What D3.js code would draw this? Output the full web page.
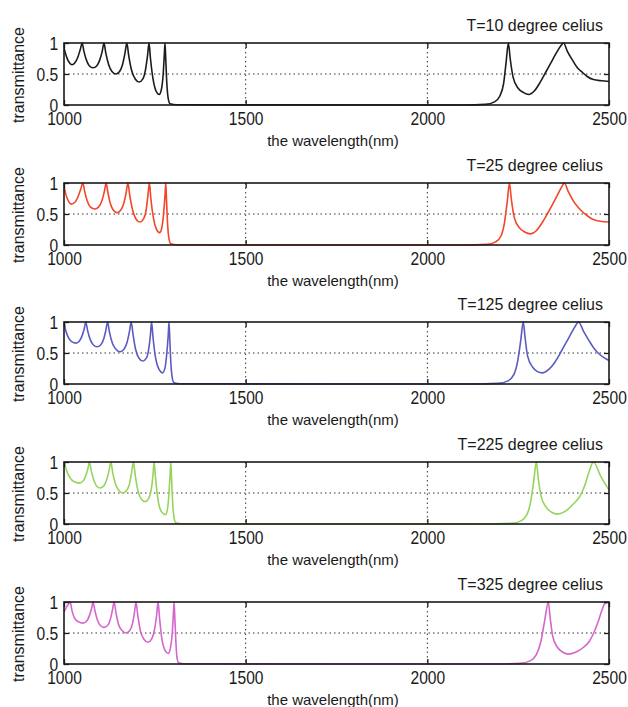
<!DOCTYPE html>
<html>
<head>
<meta charset="utf-8">
<script src="https://cdn.jsdelivr.net/npm/d3@7"></script>
<style>
  body { margin: 0; background: #fff; }
  svg { display: block; }
  .tick text { font-family: "Liberation Sans", Arial, sans-serif; font-size: 19px; fill: #1a1a1a; }
  .lbl { font-family: "Liberation Sans", Arial, sans-serif; fill: #1a1a1a; }
</style>
</head>
<body>
<svg id="chart" width="628" height="707"></svg>
<script>
// panel titles
const titles = ['T=10 degree celius', 'T=25 degree celius', 'T=125 degree celius', 'T=225 degree celius', 'T=325 degree celius']
const colors = ['#1c1c1c', '#f2452a', '#5a5cc2', '#96d45c', '#d466cc']
const xTicks = [1000, 1500, 2000, 2500]
const yTicks = [0, 0.5, 1]
const yTickLabels = ['0', '0.5', '1']

// T=10
const wl10 = [1000, 1008, 1015, 1022, 1030, 1038, 1045, 1050,
  1055, 1062, 1070, 1080, 1090, 1098, 1105, 1110,
  1115, 1123, 1132, 1143, 1153, 1161, 1168, 1173,
  1178, 1186, 1196, 1207, 1217, 1224, 1230, 1234,
  1238, 1245, 1253, 1262, 1268, 1273, 1276, 1278,
  1280, 1283, 1287, 1292, 1310, 2100, 2160, 2185, 2200, 2210, 2217, 2223,
  2228, 2236, 2250, 2265, 2279, 2295, 2310, 2325, 2340, 2355, 2368, 2375,
  2385, 2400, 2413, 2428, 2440, 2457, 2480, 2500]
const tr10 = [0.92, 0.76, 0.68, 0.65, 0.68, 0.77, 0.9, 1,
  0.86, 0.72, 0.63, 0.6, 0.63, 0.72, 0.86, 1,
  0.84, 0.65, 0.54, 0.5, 0.54, 0.65, 0.84, 1,
  0.8, 0.56, 0.42, 0.37, 0.42, 0.56, 0.8, 1,
  0.75, 0.42, 0.23, 0.17, 0.25, 0.5, 0.8, 1,
  0.75, 0.35, 0.1, 0.02, 0.003, 0, 0.01, 0.05, 0.15, 0.35, 0.7, 1,
  0.75, 0.45, 0.27, 0.2, 0.17, 0.23, 0.36, 0.52, 0.68, 0.84, 0.96, 1,
  0.87, 0.72, 0.6, 0.52, 0.46, 0.41, 0.39, 0.38]

// T=25
const wl25 = [1000, 1006, 1013, 1020, 1030, 1038, 1046, 1052,
  1057, 1064, 1073, 1085, 1095, 1104, 1111, 1116,
  1121, 1128, 1136, 1146, 1156, 1164, 1171, 1176,
  1181, 1189, 1198, 1209, 1219, 1226, 1231, 1235,
  1239, 1246, 1254, 1263, 1269, 1274, 1278, 1280,
  1282, 1285, 1289, 1294, 1310, 2100, 2165, 2188, 2203, 2212, 2220, 2226,
  2231, 2239, 2253, 2268, 2284, 2300, 2315, 2330, 2345, 2360, 2371, 2377,
  2388, 2403, 2418, 2430, 2443, 2457, 2480, 2500]
const tr25 = [0.95, 0.8, 0.7, 0.66, 0.69, 0.77, 0.9, 1,
  0.86, 0.71, 0.61, 0.58, 0.61, 0.71, 0.86, 1,
  0.84, 0.66, 0.56, 0.52, 0.56, 0.66, 0.84, 1,
  0.8, 0.56, 0.42, 0.37, 0.42, 0.56, 0.8, 1,
  0.75, 0.44, 0.26, 0.2, 0.27, 0.5, 0.8, 1,
  0.75, 0.35, 0.1, 0.02, 0.003, 0, 0.01, 0.05, 0.15, 0.35, 0.7, 1,
  0.75, 0.45, 0.28, 0.21, 0.18, 0.23, 0.35, 0.5, 0.66, 0.83, 0.95, 1,
  0.86, 0.7, 0.59, 0.52, 0.46, 0.41, 0.38, 0.37]

// T=125
const wl125 = [1000, 1005, 1013, 1022, 1033, 1042, 1050, 1056, 1060,
  1065, 1072, 1081, 1091, 1101, 1109, 1115, 1120,
  1125, 1133, 1143, 1154, 1165, 1173, 1180, 1185,
  1190, 1197, 1206, 1217, 1227, 1233, 1238, 1241,
  1245, 1252, 1262, 1271, 1278, 1283, 1287, 1289,
  1291, 1294, 1298, 1303, 1320, 2120, 2195, 2222, 2238, 2248, 2257, 2264,
  2269, 2276, 2290, 2303, 2316, 2335, 2352, 2368, 2385, 2400, 2410, 2416,
  2430, 2445, 2457, 2470, 2485, 2500]
const tr125 = [1, 0.86, 0.74, 0.68, 0.66, 0.69, 0.78, 0.9, 1,
  0.86, 0.72, 0.63, 0.6, 0.63, 0.72, 0.86, 1,
  0.84, 0.66, 0.56, 0.52, 0.56, 0.66, 0.84, 1,
  0.8, 0.56, 0.42, 0.37, 0.42, 0.56, 0.8, 1,
  0.75, 0.42, 0.23, 0.18, 0.26, 0.5, 0.8, 1,
  0.75, 0.35, 0.1, 0.02, 0.003, 0, 0.01, 0.05, 0.15, 0.35, 0.7, 1,
  0.75, 0.45, 0.27, 0.2, 0.18, 0.24, 0.36, 0.52, 0.7, 0.86, 0.96, 1,
  0.85, 0.7, 0.59, 0.5, 0.43, 0.38]

// T=225
const wl225 = [1000, 1006, 1015, 1028, 1042, 1052, 1060, 1066, 1070,
  1075, 1082, 1090, 1099, 1109, 1117, 1124, 1129,
  1134, 1142, 1151, 1162, 1172, 1180, 1186, 1191,
  1196, 1203, 1212, 1223, 1233, 1240, 1245, 1248,
  1252, 1258, 1268, 1280, 1285, 1289, 1292, 1294,
  1296, 1299, 1303, 1308, 1325, 2150, 2230, 2258, 2274, 2284, 2293, 2300,
  2305, 2313, 2327, 2342, 2358, 2378, 2400, 2420, 2432, 2445, 2457,
  2478, 2500]
const tr225 = [1, 0.88, 0.76, 0.68, 0.66, 0.69, 0.78, 0.9, 1,
  0.86, 0.71, 0.61, 0.58, 0.61, 0.71, 0.86, 1,
  0.83, 0.64, 0.54, 0.5, 0.54, 0.64, 0.83, 1,
  0.79, 0.55, 0.41, 0.36, 0.41, 0.55, 0.79, 1,
  0.74, 0.42, 0.2, 0.15, 0.25, 0.5, 0.8, 1,
  0.75, 0.35, 0.1, 0.02, 0.003, 0, 0.01, 0.05, 0.15, 0.35, 0.7, 1,
  0.75, 0.45, 0.27, 0.19, 0.16, 0.2, 0.31, 0.45, 0.6, 0.84, 1,
  0.76, 0.55]

// T=325
const wl325 = [1000, 1008, 1014, 1017, 1022, 1029, 1040, 1052, 1062, 1070, 1076, 1080,
  1085, 1092, 1100, 1110, 1120, 1127, 1133, 1138,
  1143, 1150, 1160, 1171, 1181, 1188, 1194, 1198,
  1203, 1210, 1220, 1231, 1241, 1249, 1255, 1259,
  1263, 1269, 1278, 1287, 1293, 1298, 1301, 1303,
  1305, 1308, 1311, 1316, 1330, 2180, 2255, 2283, 2300, 2312, 2323, 2333,
  2338, 2345, 2358, 2373, 2388, 2408, 2430, 2445, 2458, 2470, 2480, 2488, 2500]
const tr325 = [0.84, 0.93, 0.98, 1, 0.86, 0.74, 0.68, 0.66, 0.69, 0.78, 0.9, 1,
  0.86, 0.71, 0.62, 0.59, 0.62, 0.71, 0.86, 1,
  0.83, 0.64, 0.54, 0.5, 0.54, 0.64, 0.83, 1,
  0.79, 0.54, 0.4, 0.35, 0.4, 0.55, 0.79, 1,
  0.74, 0.42, 0.22, 0.17, 0.26, 0.5, 0.8, 1,
  0.75, 0.35, 0.1, 0.02, 0.003, 0, 0.01, 0.05, 0.15, 0.35, 0.7, 1,
  0.75, 0.45, 0.27, 0.19, 0.16, 0.19, 0.27, 0.36, 0.5, 0.68, 0.86, 0.97, 1]

const wavelengths = [wl10, wl25, wl125, wl225, wl325]
const transmittance = [tr10, tr25, tr125, tr225, tr325]

const svg = d3.select('#chart')
const left = 64, right = 609
const panelTops = [43, 183, 322, 462, 602]
const panelH = 62

const x = d3.scaleLinear().domain([1000, 2500]).range([left, right])

panelTops.forEach((top, i) => {
  const y = d3.scaleLinear().domain([0, 1]).range([top + panelH, top])
  const g = svg.append('g')

  g.append('clipPath').attr('id', 'clip' + i)
    .append('rect')
    .attr('x', left).attr('y', top - 1)
    .attr('width', right - left).attr('height', panelH + 2)

  // dotted grid
  g.selectAll('.vgrid')
    .data([1500, 2000])
    .enter().append('line')
    .attr('x1', d => x(d)).attr('x2', d => x(d))
    .attr('y1', top).attr('y2', top + panelH)
    .attr('stroke', '#333').attr('stroke-width', 1)
    .attr('stroke-dasharray', '1.5,3')
  g.append('line')
    .attr('x1', left).attr('x2', right)
    .attr('y1', y(0.5)).attr('y2', y(0.5))
    .attr('stroke', '#333').attr('stroke-width', 1)
    .attr('stroke-dasharray', '1.5,3')

  const pts = wavelengths[i].map((w, j) => [w, transmittance[i][j]])
  const line = d3.line()
    .x(d => x(d[0]))
    .y(d => y(d[1]))
    .curve(d3.curveMonotoneX)
  g.append('path')
    .datum(pts)
    .attr('clip-path', 'url(#clip' + i + ')')
    .attr('fill', 'none')
    .attr('stroke', colors[i])
    .attr('stroke-width', 1.6)
    .attr('d', line)

  // axes, matlab style inward ticks
  g.append('g')
    .attr('transform', 'translate(0,' + (top + panelH) + ')')
    .call(d3.axisBottom(x).tickValues(xTicks).tickSize(-5).tickPadding(7).tickFormat(d3.format('d')))
    .call(a => a.select('.domain').remove())
    .call(a => a.selectAll('text').attr('transform', 'scale(0.82,1)'))
  g.append('g')
    .attr('transform', 'translate(0,' + top + ')')
    .call(d3.axisTop(x).tickValues(xTicks).tickSize(-5).tickFormat(''))
    .call(a => a.select('.domain').remove())
  g.append('g')
    .attr('transform', 'translate(' + left + ',0)')
    .call(d3.axisLeft(y).tickValues(yTicks).tickSize(-5).tickPadding(7).tickFormat((d, k) => yTickLabels[k]))
    .call(a => a.select('.domain').remove())
    .call(a => a.selectAll('text').attr('transform', 'scale(0.82,1)'))
  g.append('g')
    .attr('transform', 'translate(' + right + ',0)')
    .call(d3.axisRight(y).tickValues(yTicks).tickSize(-5).tickFormat(''))
    .call(a => a.select('.domain').remove())
  g.selectAll('.tick line').attr('stroke', '#1a1a1a').attr('stroke-width', 1.3)

  g.append('rect')
    .attr('x', left).attr('y', top)
    .attr('width', right - left).attr('height', panelH)
    .attr('fill', 'none').attr('stroke', '#1a1a1a').attr('stroke-width', 1.6)

  g.append('text').attr('class', 'lbl')
    .attr('x', 603).attr('y', top - 12)
    .attr('text-anchor', 'end')
    .attr('font-size', 16)
    .text(titles[i])

  g.append('text').attr('class', 'lbl')
    .attr('x', 333).attr('y', top + panelH + 41)
    .attr('text-anchor', 'middle')
    .attr('font-size', 15)
    .text('the wavelength(nm)')

  g.append('text').attr('class', 'lbl')
    .attr('transform', 'translate(24,' + (top + panelH / 2 + 1) + ') rotate(-90)')
    .attr('text-anchor', 'middle')
    .attr('font-size', 16)
    .text('transmittance')
})
</script>
</body>
</html>
